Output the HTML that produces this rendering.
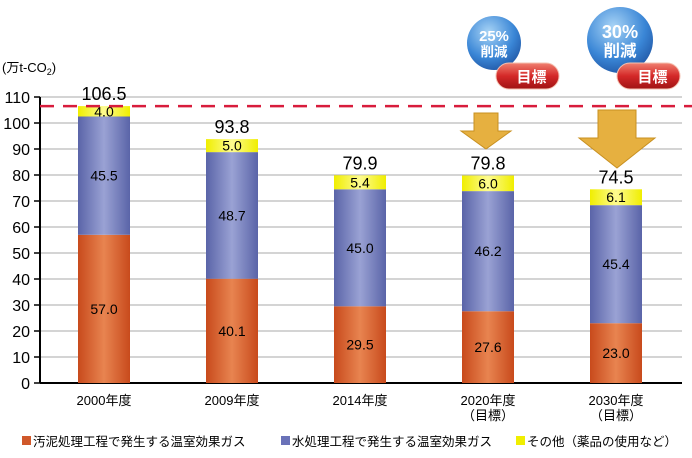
<!DOCTYPE html>
<html><head><meta charset="utf-8"><style>
body{margin:0;background:#fff;}
svg{display:block;font-family:"Liberation Sans","Noto Sans CJK JP",sans-serif;}
</style></head><body>
<svg id="c" width="692" height="458" viewBox="0 0 692 458">
<defs>
<linearGradient id="gO" x1="0" x2="1"><stop offset="0" stop-color="#c84a1c"/><stop offset="0.5" stop-color="#e88450"/><stop offset="1" stop-color="#c84a1c"/></linearGradient>
<linearGradient id="gB" x1="0" x2="1"><stop offset="0" stop-color="#5a64a8"/><stop offset="0.5" stop-color="#9aa2d4"/><stop offset="1" stop-color="#5a64a8"/></linearGradient>
<linearGradient id="gY" x1="0" x2="1"><stop offset="0" stop-color="#f0ee00"/><stop offset="0.5" stop-color="#fdfb90"/><stop offset="1" stop-color="#f0ee00"/></linearGradient>
<radialGradient id="gC" cx="0.4" cy="0.3" r="0.8"><stop offset="0" stop-color="#a8d4f6"/><stop offset="0.6" stop-color="#3a86d6"/><stop offset="1" stop-color="#1c4e9c"/></radialGradient>
<linearGradient id="gR" x1="0" y1="0" x2="0" y2="1"><stop offset="0" stop-color="#f08070"/><stop offset="0.5" stop-color="#d42828"/><stop offset="1" stop-color="#a01414"/></linearGradient>
</defs>
<g id="grid"></g>
<g id="bars"></g>
<g id="deco"></g>
</svg>
<script>
const categories=["2000年度","2009年度","2014年度","2020年度","2030年度"];
const sub=["","","","（目標）","（目標）"];
const sludge=[57.0,40.1,29.5,27.6,23.0];
const water=[45.5,48.7,45.0,46.2,45.4];
const other=[4.0,5.0,5.4,6.0,6.1];
const totals=[106.5,93.8,79.9,79.8,74.5];
const yTicks=[0,10,20,30,40,50,60,70,80,90,100,110];
const baseline=106.5;
const NS="http://www.w3.org/2000/svg";
const y=v=>383-v*2.6;
const x=i=>104+i*128;
const BW=52;
function mk(p,t,a){const e=document.createElementNS(NS,t);for(const k in a)e.setAttribute(k,a[k]);p.appendChild(e);return e;}
const grid=document.getElementById('grid'),bars=document.getElementById('bars'),deco=document.getElementById('deco');
yTicks.forEach(v=>{
 if(v>0){const l=mk(grid,'line',{x1:40,x2:682,y1:y(v),y2:y(v),stroke:'#aaa','stroke-width':1});
 
 }
 const tk=mk(grid,'line',{x1:34,x2:40,y1:y(v),y2:y(v),stroke:'#000','stroke-width':1.5});
 
 
 const t=mk(grid,'text',{x:30,y:y(v)+6,'text-anchor':'end','font-size':16});t.textContent=v;
 
 
});
const ax=mk(grid,'line',{x1:40,x2:40,y1:y(110),y2:y(0),stroke:'#000','stroke-width':2});


const xa=mk(grid,'line',{x1:40,x2:682,y1:y(0),y2:y(0),stroke:'#000','stroke-width':2});


const ut=mk(grid,'text',{x:2,y:72,'font-size':13});ut.innerHTML='(万t-CO<tspan font-size="9" dy="3">2</tspan><tspan dy="-3">)</tspan>';


categories.forEach((c,i)=>{
 const cx=x(i),x0=cx-BW/2;
 const segs=[[0,sludge[i],'url(#gO)','bar-sludge'],[sludge[i],sludge[i]+water[i],'url(#gB)','bar-water'],[sludge[i]+water[i],sludge[i]+water[i]+other[i],'url(#gY)','bar-other']];
 const vals=[sludge[i],water[i],other[i]];
 segs.forEach((s,k)=>{
  const r=mk(bars,'rect',{x:x0,y:y(s[1]),width:BW,height:y(s[0])-y(s[1]),fill:s[2]});
  
  
  const t=mk(bars,'text',{x:cx,y:(y(s[0])+y(s[1]))/2+5,'text-anchor':'middle','font-size':14});t.textContent=vals[k].toFixed(1);
  
  
 });
 const tt=mk(bars,'text',{x:cx,y:y(totals[i])-6,'text-anchor':'middle','font-size':18});tt.textContent=totals[i].toFixed(1);
 
 
 const cl=mk(bars,'text',{x:cx,y:405,'text-anchor':'middle','font-size':13});cl.textContent=c;
 
 
 if(sub[i]){const s2=mk(bars,'text',{x:cx,y:420,'text-anchor':'middle','font-size':13});s2.textContent=sub[i];
 
 }
});
const bl=mk(deco,'line',{x1:40,x2:692,y1:y(baseline),y2:y(baseline),stroke:'#d81c3c','stroke-width':2.5,'stroke-dasharray':'14,9'});


// arrows
const a1=mk(deco,'polygon',{points:'474,113 498,113 498,131 511,131 486,149 461,131 474,131',fill:'#e6b040',stroke:'#c89020'});


const a2=mk(deco,'polygon',{points:'598,110 636,110 636,138 655,138 617,168 579,138 598,138',fill:'#e6b040',stroke:'#c89020'});


function badge(cx,cy,r,pct,px,pw,name){
 const g=mk(deco,'g',{});
 
 
 mk(g,'circle',{cx:cx,cy:cy,r:r,fill:'url(#gC)'});
 const t1=mk(g,'text',{x:cx,y:cy-2,'text-anchor':'middle','font-size':r*0.55,fill:'#fff','font-weight':'bold'});t1.textContent=pct;
 const t2=mk(g,'text',{x:cx,y:cy+r*0.5,'text-anchor':'middle','font-size':r*0.5,fill:'#fff','font-weight':'bold'});t2.textContent='削減';
 mk(g,'rect',{x:px,y:63,width:pw,height:26,rx:13,fill:'url(#gR)',stroke:'#f4c0b0'});
 const t3=mk(g,'text',{x:px+pw/2+4,y:82,'text-anchor':'middle','font-size':15,fill:'#fff','font-weight':'bold'});t3.textContent='目標';
}
badge(494,43,27,'25%',496,63,'target-badge-2020');
badge(620,40,33,'30%',617,63,'target-badge-2030');
// legend
const lg=[['#d0582a','汚泥処理工程で発生する温室効果ガス',22],['#6a72b8','水処理工程で発生する温室効果ガス',281],['#f0ee00','その他（薬品の使用など）',516]];
lg.forEach(l=>{
 const r=mk(deco,'rect',{x:l[2],y:436,width:9,height:9,fill:l[0]});
 
 
 const t=mk(deco,'text',{x:l[2]+11,y:446,'font-size':12.5});t.textContent=l[1];
 
 
});
</script>
</body></html>
